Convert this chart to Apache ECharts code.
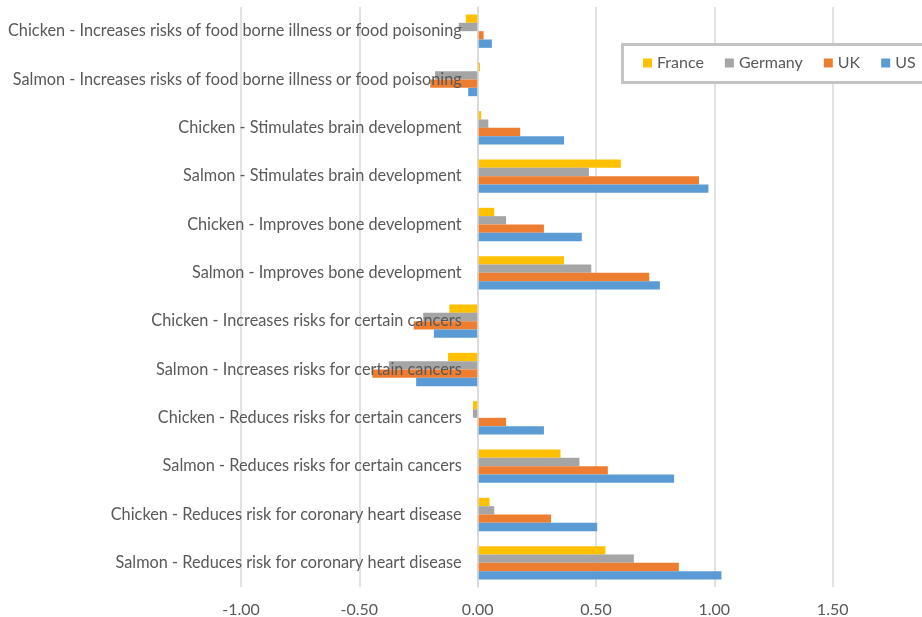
<!DOCTYPE html>
<html>
<head>
<meta charset="utf-8">
<script src="https://cdn.jsdelivr.net/npm/echarts@6/dist/echarts.min.js"></script>
<style>
  html, body { margin: 0; padding: 0; background: #fff; }
  #chart { width: 922px; height: 617px; }
</style>
</head>
<body>
<div id="chart"></div>
<script>
// categories, bottom to top (Excel order)
const categories = [
  'Salmon - Reduces risk for coronary heart disease',
  'Chicken - Reduces risk for coronary heart disease',
  'Salmon - Reduces risks for certain cancers',
  'Chicken - Reduces risks for certain cancers',
  'Salmon - Increases risks for certain cancers',
  'Chicken - Increases risks for certain cancers',
  'Salmon - Improves bone development',
  'Chicken - Improves bone development',
  'Salmon - Stimulates brain development',
  'Chicken - Stimulates brain development',
  'Salmon - Increases risks of food borne illness or food poisoning',
  'Chicken - Increases risks of food borne illness or food poisoning'
]
const france  = [0.54, 0.05, 0.35, -0.02, -0.125, -0.12, 0.365, 0.07, 0.605, 0.015, 0.01, -0.05]
const germany = [0.66, 0.07, 0.43, -0.02, -0.375, -0.23, 0.48, 0.12, 0.47, 0.045, -0.18, -0.08]
const uk      = [0.85, 0.31, 0.55, 0.12, -0.445, -0.27, 0.725, 0.28, 0.935, 0.18, -0.20, 0.025]
const us      = [1.03, 0.505, 0.83, 0.28, -0.26, -0.185, 0.77, 0.44, 0.975, 0.365, -0.04, 0.06]
const seriesNames = ['France', 'Germany', 'UK', 'US']
const colors = ['#FFC000', '#A5A5A5', '#ED7D31', '#5B9BD5']

const chart = echarts.init(document.getElementById('chart'))
const txt = '#595959'
const font = 'Lato, "Open Sans", sans-serif'

const option = {
  animation: false,
  textStyle: { fontFamily: font },
  // legend frame (runs off the right edge like the source)
  graphic: [{
    type: 'rect',
    left: 621, top: 43,
    shape: { width: 330, height: 38 },
    style: { fill: '#fff', stroke: '#c4c4c4', lineWidth: 3 },
    z: 10
  }],
  legend: {
    data: seriesNames,
    left: 643,
    top: 55,
    width: 360,
    padding: 0,
    itemWidth: 9,
    itemHeight: 9,
    itemGap: 21,
    icon: 'rect',
    z: 11,
    textStyle: { color: txt, fontSize: 16, fontFamily: font }
  },
  grid: { left: 241, right: -29, top: 7, bottom: 30, outerBoundsMode: 'none' },
  xAxis: {
    type: 'value',
    min: -1,
    max: 2,
    interval: 0.5,
    axisLine: { show: false },
    axisTick: { show: false },
    axisLabel: { color: txt, fontSize: 16, margin: 15, formatter: v => v.toFixed(2) },
    splitLine: { lineStyle: { color: '#d9d9d9', width: 1.5 } }
  },
  yAxis: {
    type: 'category',
    data: categories,
    z: 5,
    offset: -236.7,
    axisLine: { onZero: false, lineStyle: { color: '#d9d9d9', width: 1.5 } },
    axisTick: { show: false },
    axisLabel: { color: txt, fontSize: 16.3, margin: 16 }
  },
  series: seriesNames.map((name, i) => ({
    name: name,
    type: 'bar',
    data: [france, germany, uk, us][i],
    itemStyle: { color: colors[i] },
    barGap: '0%',
    barCategoryGap: '31%'
  }))
}
chart.setOption(option)
</script>
</body>
</html>
